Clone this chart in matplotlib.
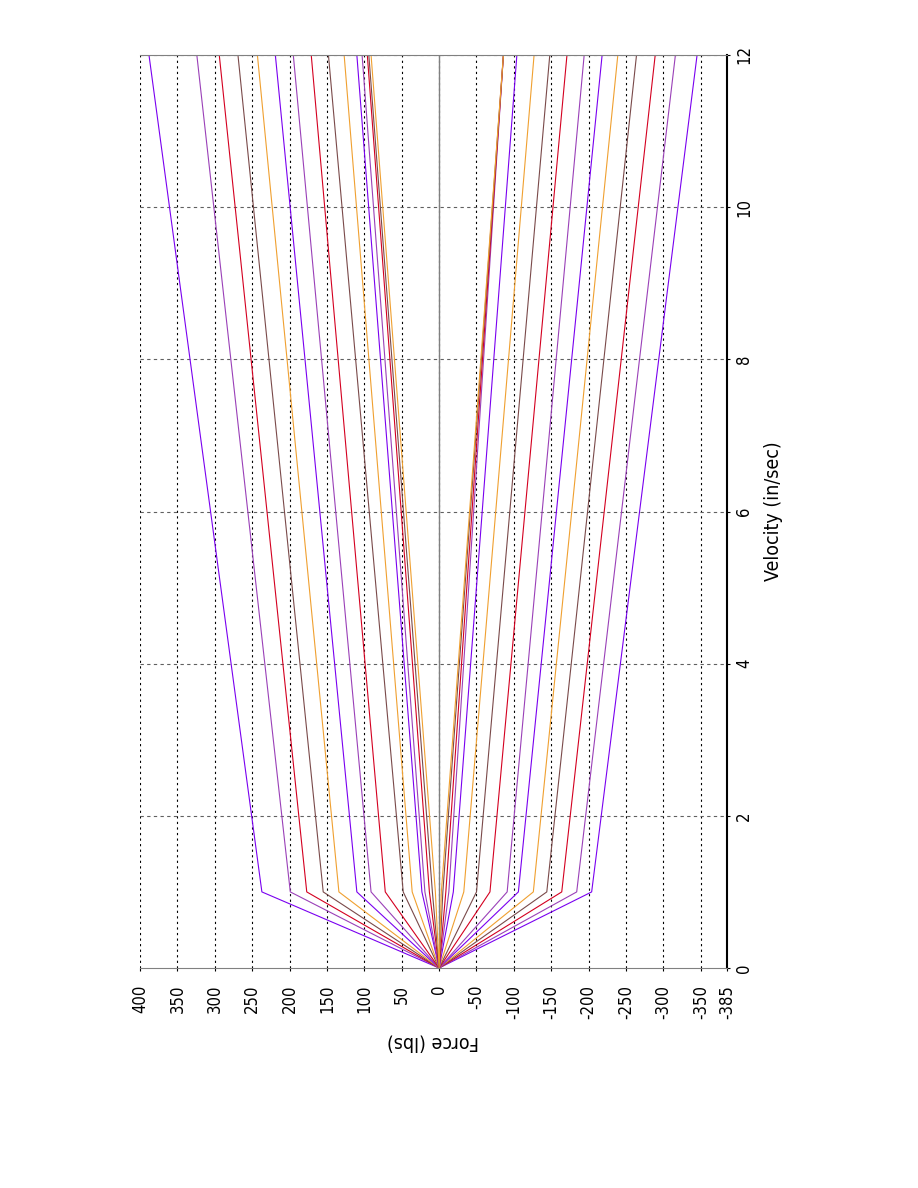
import numpy as np
import matplotlib
matplotlib.use("Agg")
import matplotlib.pyplot as plt

plt.rcParams['font.family'] = ['DejaVu Sans']
plt.rcParams['font.stretch'] = 'condensed'

# velocity points of each curve (in/sec)
vel = [0, 1, 12]

# rebound (positive) curves, outer to inner: force at 1 in/s and at 12 in/s
pos_knee = [237, 199, 177, 155, 134, 110, 91, 72, 48, 36, 23, 19, 13, 9, 5]
pos_end = [388, 324, 294, 269, 243, 219, 195, 171, 148, 127, 110, 103, 96, 94, 91]

# compression (negative) curves, outer to inner
neg_knee = [-204, -184, -164, -144, -126, -106, -91, -68, -50, -33, -19, -13, -9, -5, -3]
neg_end = [-345, -316, -289, -264, -239, -218, -194, -171, -148, -127, -104, -86, -86, -86, -86]

colors = ['#7a00f0', '#9a40b8', '#d40020', '#7a4a4a', '#f0a030'] * 3

force_ticks = [400, 350, 300, 250, 200, 150, 100, 50, 0, -50, -100, -150, -200, -250, -300, -350, -385]
vel_ticks = [0, 2, 4, 6, 8, 10, 12]

fig = plt.figure(figsize=(9.18, 11.88), dpi=100)
ax = fig.add_axes([140 / 918, 1 - 968 / 1188, 587 / 918, 913 / 1188])

for i in range(len(pos_knee)):
    ax.plot([0, pos_knee[i], pos_end[i]], vel, color=colors[i], lw=0.8)
for i in range(len(neg_knee)):
    ax.plot([0, neg_knee[i], neg_end[i]], vel, color=colors[i], lw=0.8)

ax.set_xlim(400, -385)
ax.set_ylim(0, 12)

ax.axvline(0, color='#808080', lw=1.0, zorder=1)
for f in force_ticks:
    ax.axvline(f, color='black', lw=0.8, ls=(0, (2, 3)), zorder=0)
for v in vel_ticks[1:]:
    ax.axhline(v, color='#606060', lw=0.8, ls=(0, (3, 3)), zorder=0)

ax.set_xticks(force_ticks)
ax.set_xticklabels([str(f) for f in force_ticks], rotation=90, fontsize=12)
ax.yaxis.tick_right()
ax.yaxis.set_label_position('right')
ax.set_yticks(vel_ticks)
ax.set_yticklabels([str(v) for v in vel_ticks], rotation=90, va='center', fontsize=12)
ax.tick_params(axis='x', length=2, pad=10)
ax.tick_params(axis='y', length=2, pad=4)

ax.set_xlabel('Force (lbs)', rotation=180, fontsize=14, labelpad=10)
ax.set_ylabel('Velocity (in/sec)', rotation=90, fontsize=14, labelpad=8)

ax.spines['left'].set_visible(False)
ax.spines['top'].set_color('#808080')
ax.spines['bottom'].set_color('#808080')
ax.spines['right'].set_color('black')
ax.spines['right'].set_linewidth(1.5)

fig.savefig('out.png', dpi=100)
